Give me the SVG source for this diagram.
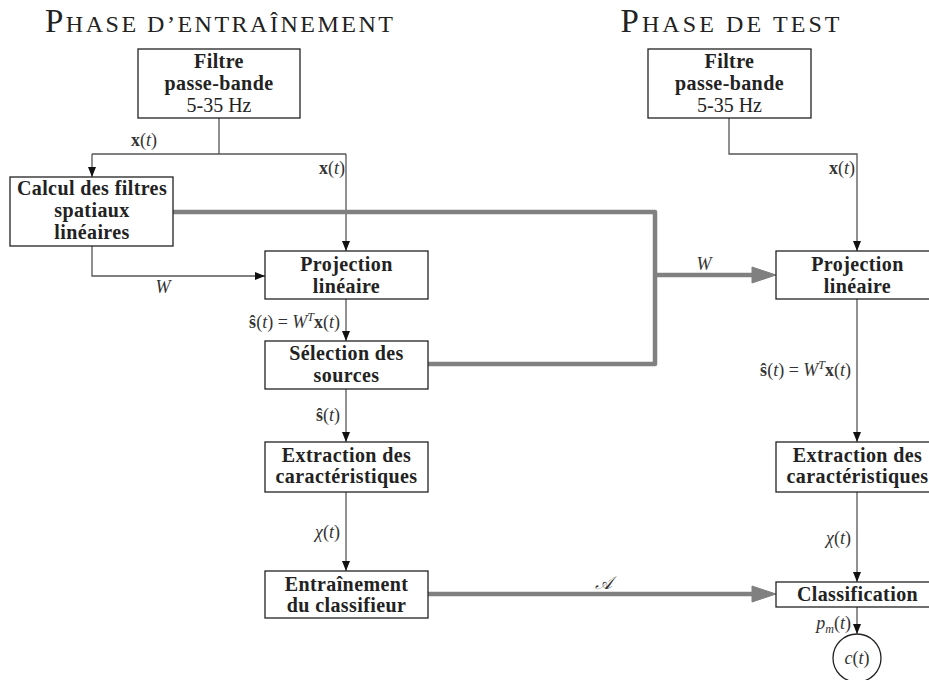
<svg xmlns="http://www.w3.org/2000/svg" width="929" height="680" viewBox="0 0 929 680">
<style>
.box{fill:#fff;stroke:#222;stroke-width:1.3}
.t{font-family:"Liberation Serif","Times New Roman",serif;font-size:20px;font-weight:bold;fill:#222;text-anchor:middle;letter-spacing:0.4px}
.r{font-weight:normal;letter-spacing:0}
.title{font-family:"Liberation Serif","Times New Roman",serif;font-size:33px;fill:#222;text-anchor:middle}
.sc{font-size:24px}
.m{font-family:"Liberation Serif","Times New Roman",serif;font-size:18px;fill:#333}
.thin{fill:none;stroke:#555;stroke-width:1.3}
.thick{fill:none;stroke:#808080;stroke-width:4.5;stroke-linejoin:round;stroke-linecap:round}
</style>
<defs>
<marker id="ah" markerUnits="userSpaceOnUse" markerWidth="10" markerHeight="10" viewBox="0 0 10 10" refX="10" refY="5" orient="auto">
<path d="M0,1 L10,5 L0,9 z" fill="#111"/>
</marker>
<marker id="gh" markerUnits="userSpaceOnUse" markerWidth="26" markerHeight="18" viewBox="0 0 26 18" refX="8" refY="9" orient="auto" overflow="visible">
<path d="M0,1 L24,9 L0,17 z" fill="#808080" stroke="#808080" stroke-width="1" stroke-linejoin="round"/>
</marker>
</defs>

<text class="title" x="219" y="32" textLength="348" lengthAdjust="spacing">P<tspan class="sc">HASE D’ENTRAÎNEMENT</tspan></text>
<text class="title" x="730" y="32" textLength="219" lengthAdjust="spacing">P<tspan class="sc">HASE DE TEST</tspan></text>

<g id="connectors">
<path class="thin" d="M219,118 V154 M92,154 H346"/>
<path class="thin" d="M92,154 V177" marker-end="url(#ah)"/>
<path class="thin" d="M346,154 V251" marker-end="url(#ah)"/>
<path class="thin" d="M92,246 V276 H265" marker-end="url(#ah)"/>
<path class="thin" d="M346,299 V341" marker-end="url(#ah)"/>
<path class="thin" d="M346,389 V442" marker-end="url(#ah)"/>
<path class="thin" d="M346,492 V571" marker-end="url(#ah)"/>
<path class="thin" d="M729,118 V154 H857 V251" marker-end="url(#ah)"/>
<path class="thin" d="M857,299 V442" marker-end="url(#ah)"/>
<path class="thin" d="M857,492 V582" marker-end="url(#ah)"/>
<path class="thin" d="M857,607 V634" marker-end="url(#ah)"/>
<path class="thick" d="M173,212 H655 V364 H428"/>
<path class="thick" d="M655,275 H760" marker-end="url(#gh)" style="stroke-linecap:butt"/>
<path class="thick" d="M428,594 H760" marker-end="url(#gh)" style="stroke-linecap:butt"/>
</g>

<g id="labels">
<text class="m" x="157" y="146" text-anchor="end"><tspan font-weight="bold">x</tspan>(<tspan font-style="italic">t</tspan>)</text>
<text class="m" x="345" y="174" text-anchor="end"><tspan font-weight="bold">x</tspan>(<tspan font-style="italic">t</tspan>)</text>
<text class="m" x="855" y="174" text-anchor="end"><tspan font-weight="bold">x</tspan>(<tspan font-style="italic">t</tspan>)</text>
<text class="m" x="163" y="293" text-anchor="middle" font-style="italic">W</text>
<text class="m" x="704" y="270" text-anchor="middle" font-style="italic">W</text>
<text class="m" x="340" y="328" text-anchor="end"><tspan font-weight="bold">ŝ</tspan>(<tspan font-style="italic">t</tspan>) = <tspan font-style="italic">W</tspan><tspan font-style="italic" font-size="12" dy="-7">T</tspan><tspan font-weight="bold" dy="7">x</tspan>(<tspan font-style="italic">t</tspan>)</text>
<text class="m" x="851" y="376" text-anchor="end"><tspan font-weight="bold">ŝ</tspan>(<tspan font-style="italic">t</tspan>) = <tspan font-style="italic">W</tspan><tspan font-style="italic" font-size="12" dy="-7">T</tspan><tspan font-weight="bold" dy="7">x</tspan>(<tspan font-style="italic">t</tspan>)</text>
<text class="m" x="340" y="421" text-anchor="end"><tspan font-weight="bold">ŝ</tspan>(<tspan font-style="italic">t</tspan>)</text>
<text class="m" x="340" y="538" text-anchor="end"><tspan font-style="italic">χ</tspan>(<tspan font-style="italic">t</tspan>)</text>
<text class="m" x="851" y="544" text-anchor="end"><tspan font-style="italic">χ</tspan>(<tspan font-style="italic">t</tspan>)</text>
<text class="m" x="603" y="589" text-anchor="middle" font-style="italic">𝒜</text>
<text class="m" x="851" y="629" text-anchor="end"><tspan font-style="italic">p</tspan><tspan font-style="italic" font-size="12" dy="4">m</tspan><tspan dy="-4">(</tspan><tspan font-style="italic">t</tspan>)</text>
</g>

<g id="filtre-train">
<rect class="box" x="138" y="49" width="162" height="69"/>
<text class="t" x="219" y="68">Filtre</text>
<text class="t" x="219" y="90">passe-bande</text>
<text class="t r" x="219" y="112">5-35 Hz</text>
</g>
<g id="calcul">
<rect class="box" x="10" y="177" width="163" height="69"/>
<text class="t" x="92" y="195">Calcul des filtres</text>
<text class="t" x="92" y="217">spatiaux</text>
<text class="t" x="92" y="239">linéaires</text>
</g>
<g id="projection-train">
<rect class="box" x="265" y="251" width="163" height="48"/>
<text class="t" x="346.5" y="271">Projection</text>
<text class="t" x="346.5" y="293">linéaire</text>
</g>
<g id="selection">
<rect class="box" x="265" y="341" width="163" height="48"/>
<text class="t" x="346.5" y="360">Sélection des</text>
<text class="t" x="346.5" y="382">sources</text>
</g>
<g id="extraction-train">
<rect class="box" x="265" y="442" width="163" height="50"/>
<text class="t" x="346.5" y="462">Extraction des</text>
<text class="t" x="346.5" y="483">caractéristiques</text>
</g>
<g id="entrainement">
<rect class="box" x="265" y="571" width="163" height="47"/>
<text class="t" x="346.5" y="591">Entraînement</text>
<text class="t" x="346.5" y="612">du classifieur</text>
</g>
<g id="filtre-test">
<rect class="box" x="648" y="49" width="163" height="69"/>
<text class="t" x="729.5" y="68">Filtre</text>
<text class="t" x="729.5" y="90">passe-bande</text>
<text class="t r" x="729.5" y="112">5-35 Hz</text>
</g>
<g id="projection-test">
<rect class="box" x="776" y="251" width="163" height="48"/>
<text class="t" x="857.5" y="271">Projection</text>
<text class="t" x="857.5" y="293">linéaire</text>
</g>
<g id="extraction-test">
<rect class="box" x="776" y="442" width="163" height="50"/>
<text class="t" x="857.5" y="462">Extraction des</text>
<text class="t" x="857.5" y="483">caractéristiques</text>
</g>
<g id="classification">
<rect class="box" x="776" y="582" width="163" height="25"/>
<text class="t" x="857.5" y="601">Classification</text>
</g>
<g id="sortie">
<circle class="box" cx="857" cy="658" r="24"/>
<text class="m" x="857" y="664" text-anchor="middle"><tspan font-style="italic">c</tspan>(<tspan font-style="italic">t</tspan>)</text>
</g>
</svg>
